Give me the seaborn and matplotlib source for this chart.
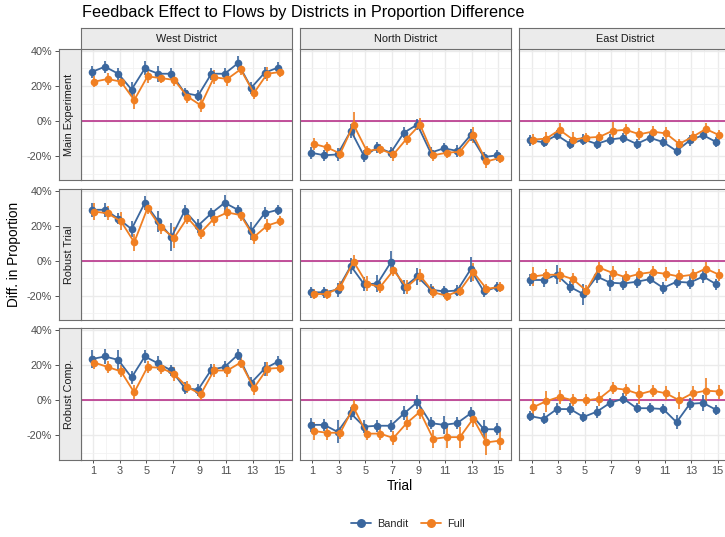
import pandas as pd
import matplotlib
matplotlib.use("Agg")
import matplotlib.pyplot as plt
from matplotlib.lines import Line2D
from matplotlib.ticker import FuncFormatter
import seaborn as sns

# 1. Values (percent)
trials = list(range(1, 16))
districts = ["West District", "North District", "East District"]
experiments = ["Main Experiment", "Robust Trial", "Robust Comp."]
groups = ["Bandit", "Full"]

west_main_bandit = [28, 31, 27, 18, 30, 27, 27, 16, 14.5, 27, 27, 33, 19, 27.5, 30.5]
west_main_full = [22.5, 24, 22.5, 12, 25.5, 24.5, 23.5, 14, 9, 25, 24, 29.5, 16, 27, 28]
north_main_bandit = [-18, -19.5, -19, -5.5, -20, -15, -18, -6.5, -2, -18, -15.5, -17, -8, -20.5, -19.5]
north_main_full = [-13, -15, -18.5, -2, -17, -16, -19, -10, -2, -19.5, -18, -17.5, -8, -23, -21]
east_main_bandit = [-11, -12, -8, -13, -10.5, -13, -10.5, -9.5, -13, -9.5, -12, -17, -11, -8, -12]
east_main_full = [-10.5, -10, -5, -10.5, -9.5, -9, -5.5, -5, -7.5, -6, -7, -13, -9, -4.5, -8]

west_trial_bandit = [29, 29, 24, 18, 33, 22.5, 13.5, 28.5, 20, 27, 33, 29, 17, 27, 29]
west_trial_full = [28, 27, 22.5, 10.5, 30, 19, 13, 24.5, 16, 24, 27.5, 26, 13.5, 20, 22.5]
north_trial_bandit = [-18, -18, -16.5, -3, -13.5, -13, -1, -15, -9, -16.5, -17.5, -17, -5, -17.5, -15]
north_trial_full = [-19, -19, -15, -0.5, -13, -15, -5.5, -15, -8.5, -18, -20, -17, -6.5, -16, -15]
east_trial_bandit = [-11, -11, -8, -15, -19, -9, -12.5, -13, -12, -10.5, -15.5, -12, -12.5, -9, -13.5]
east_trial_full = [-9, -8, -8, -10.5, -17, -4, -7, -9.5, -7.5, -6.5, -7.5, -9, -8, -4.5, -8]

west_comp_bandit = [23.5, 25, 23, 13, 25, 21, 17, 7, 6, 17.5, 19, 26, 10, 18, 22]
west_comp_full = [21.5, 19, 16.5, 4.5, 19, 18.5, 15, 7.5, 3.5, 17, 17, 21.5, 7, 18, 18.5]
north_comp_bandit = [-14, -14, -18, -7.5, -15, -14.5, -14.5, -7.5, -1, -13, -14, -13, -7.5, -16.5, -16.5]
north_comp_full = [-17.5, -18.5, -18.5, -4, -19, -19, -21.5, -13, -6.5, -22, -21, -21, -10.5, -24, -23]
east_comp_bandit = [-9, -10.5, -5, -5, -9.5, -6.5, -1.5, 1, -4.5, -4.5, -5, -12.5, -2, -1.5, -5.5]
east_comp_full = [-4, -0.5, 2, 0, 0, 1, 7, 6, 3.5, 5.5, 4, 0, 4, 5.5, 5]

# half-widths of the error bars (percent)
west_main_bandit_err = [3.5, 3.5, 3.5, 4.5, 4, 4.5, 3, 3, 3, 3.5, 3.5, 4, 3.5, 3.5, 3]
west_main_full_err = [3, 3.5, 3, 5, 4, 3, 3.5, 3.5, 4, 4, 4, 3.5, 3.5, 4, 3]
north_main_bandit_err = [3.5, 3, 3.5, 4, 3.5, 3, 3, 3, 3, 3, 3, 3.5, 3.5, 3, 3]
north_main_full_err = [3.5, 3, 3, 7, 3, 3, 3.5, 3.5, 3.5, 3, 3, 3, 4.5, 3.5, 3]
east_main_bandit_err = [3, 3, 3, 3, 3, 3, 3, 3, 3, 3, 3, 3, 3, 3, 3]
east_main_full_err = [3, 4, 4, 4.5, 3, 3, 5, 3.5, 3.5, 3, 3.5, 3, 3.5, 3.5, 3]

west_trial_bandit_err = [4, 4, 3, 4.5, 4, 6, 8, 3.5, 4, 3, 4.5, 3, 5, 3.5, 3]
west_trial_full_err = [5, 4, 5, 5, 3.5, 4, 6, 3.5, 3.5, 4, 4, 3.5, 4, 3.5, 3]
north_trial_bandit_err = [3, 3, 4, 4.5, 4, 5, 6.5, 4, 5, 3, 3, 3, 7, 3, 3]
north_trial_full_err = [3, 3, 3.5, 3.5, 4.5, 3.5, 3.5, 4, 3.5, 3.5, 3, 3, 5, 3, 3]
east_trial_bandit_err = [3.5, 4, 5.5, 3.5, 6, 3.5, 4.5, 3.5, 3.5, 3, 3.5, 3.5, 3.5, 3.5, 3]
east_trial_full_err = [5.5, 3.5, 4, 3.5, 3, 3.5, 4, 3.5, 3.5, 3.5, 4, 3.5, 3.5, 3.5, 3.5]

west_comp_bandit_err = [5, 4.5, 5.5, 3.5, 3.5, 4, 3, 3.5, 3.5, 3, 3.5, 3, 3, 4, 3]
west_comp_full_err = [3.5, 3.5, 3.5, 4, 3.5, 3.5, 4, 3.5, 3.5, 3.5, 3.5, 3, 4, 4, 3]
north_comp_bandit_err = [4, 3.5, 6.5, 3.5, 3.5, 3.5, 3.5, 4, 4, 3.5, 5, 3.5, 3.5, 5, 3.5]
north_comp_full_err = [5, 4, 3.5, 4, 3.5, 3.5, 4, 4, 4, 5, 6, 6, 5, 7, 5.5]
east_comp_bandit_err = [3, 3, 3.5, 3.5, 3, 3.5, 3, 3, 3, 3, 3, 4, 3.5, 4.5, 3]
east_comp_full_err = [4.5, 6, 4, 3.5, 3.5, 4, 3.5, 3.5, 5.5, 3.5, 4, 5, 4, 7, 4]

series = {
    ("Main Experiment", "West District"): (west_main_bandit, west_main_bandit_err, west_main_full, west_main_full_err),
    ("Main Experiment", "North District"): (north_main_bandit, north_main_bandit_err, north_main_full, north_main_full_err),
    ("Main Experiment", "East District"): (east_main_bandit, east_main_bandit_err, east_main_full, east_main_full_err),
    ("Robust Trial", "West District"): (west_trial_bandit, west_trial_bandit_err, west_trial_full, west_trial_full_err),
    ("Robust Trial", "North District"): (north_trial_bandit, north_trial_bandit_err, north_trial_full, north_trial_full_err),
    ("Robust Trial", "East District"): (east_trial_bandit, east_trial_bandit_err, east_trial_full, east_trial_full_err),
    ("Robust Comp.", "West District"): (west_comp_bandit, west_comp_bandit_err, west_comp_full, west_comp_full_err),
    ("Robust Comp.", "North District"): (north_comp_bandit, north_comp_bandit_err, north_comp_full, north_comp_full_err),
    ("Robust Comp.", "East District"): (east_comp_bandit, east_comp_bandit_err, east_comp_full, east_comp_full_err),
}

# 2. Long table
rows = []
for (exp, dist), (b, be, f, fe) in series.items():
    for g, vals, errs in (("Bandit", b, be), ("Full", f, fe)):
        for t, v, e in zip(trials, vals, errs):
            rows.append({"experiment": exp, "district": dist, "group": g,
                         "trial": t, "value": v / 100, "err": e / 100})
df = pd.DataFrame(rows)
dodge = {"Bandit": -0.1, "Full": 0.1}
df["x"] = df["trial"] + df["group"].map(dodge)

# 3. Style
sns.set_theme(style="white")
plt.rcParams["font.family"] = ["Liberation Sans", "DejaVu Sans"]
colors = {"Bandit": "#3B679E", "Full": "#F07F22"}
zero_color = "#B8338A"
border = "#6E6E6E"
strip_fill = "#EBEBEB"
grid_color = "#EBEBEB"
text_gray = "#4D4D4D"

W, H = 725, 537
fig = plt.figure(figsize=(W / 100, H / 100), dpi=100)


def px_axes(x0, y0, w, h):
    return fig.add_axes([x0 / W, 1 - (y0 + h) / H, w / W, h / H])


col_left = [80.5, 299.8, 519.1]
panel_w = 211.3
row_top = [49, 188.6, 328.2]
panel_h = 131.4
strip_w = 22
strip_h = 20.5

pct = FuncFormatter(lambda v, _: f"{v * 100:.0f}%")

for i, exp in enumerate(experiments):
    for j, dist in enumerate(districts):
        ax = px_axes(col_left[j], row_top[i], panel_w, panel_h)
        sub = df[(df["experiment"] == exp) & (df["district"] == dist)]

        ax.axhline(0, color=zero_color, lw=1.2, zorder=1)
        for g in groups:
            s = sub[sub["group"] == g]
            ax.vlines(s["x"], s["value"] - s["err"], s["value"] + s["err"],
                      color=colors[g], lw=1.2, zorder=2)
        sns.lineplot(data=sub, x="x", y="value", hue="group", hue_order=groups,
                     palette=colors, marker="o", markersize=5.5, markeredgewidth=0,
                     linewidth=1.3, legend=False, ax=ax, zorder=3)

        ax.set_xlim(0.06, 15.95)
        ax.set_ylim(-0.338, 0.411)
        ax.set_xticks(range(1, 16, 2))
        ax.set_xticks(range(2, 15, 2), minor=True)
        ax.set_yticks([-0.2, 0, 0.2, 0.4])
        ax.set_yticks([-0.3, -0.1, 0.1, 0.3], minor=True)
        ax.grid(which="major", color=grid_color, lw=1.0)
        ax.grid(which="minor", color="#F2F2F2", lw=0.6)
        ax.set_axisbelow(True)
        for sp in ax.spines.values():
            sp.set_color(border)
            sp.set_linewidth(0.8)
        ax.set_xlabel("")
        ax.set_ylabel("")

        if j == 0:
            ax.yaxis.set_major_formatter(pct)
            ax.tick_params(axis="y", which="major", left=True, direction="out",
                           length=18.5, width=0.6, color="#333333", pad=2,
                           labelsize=7.8, labelcolor=text_gray)
        else:
            ax.tick_params(axis="y", left=False, labelleft=False)
        ax.tick_params(axis="y", which="minor", left=False)
        if i == 2:
            ax.tick_params(axis="x", which="major", bottom=True, direction="out",
                           length=2.5, width=0.6, color="#333333", pad=2,
                           labelsize=7.8, labelcolor=text_gray)
        else:
            ax.tick_params(axis="x", bottom=False, labelbottom=False)
        ax.tick_params(axis="x", which="minor", bottom=False)

# 4. Facet strips
for j, dist in enumerate(districts):
    sa = px_axes(col_left[j], row_top[0] - strip_h, panel_w, strip_h)
    sa.set_facecolor(strip_fill)
    sa.set_xticks([])
    sa.set_yticks([])
    for sp in sa.spines.values():
        sp.set_color(border)
        sp.set_linewidth(0.8)
    sa.text(0.5, 0.5, dist, ha="center", va="center", fontsize=7.8,
            color="#1A1A1A", transform=sa.transAxes)

for i, exp in enumerate(experiments):
    sa = px_axes(col_left[0] - strip_w, row_top[i], strip_w, panel_h)
    sa.set_facecolor(strip_fill)
    sa.set_xticks([])
    sa.set_yticks([])
    for sp in sa.spines.values():
        sp.set_color(border)
        sp.set_linewidth(0.8)
    sa.text(0.5, 0.5, exp, ha="center", va="center", rotation=90, fontsize=7.8,
            color="#1A1A1A", transform=sa.transAxes)

# 5. Titles and legend
fig.text(82 / W, 1 - 12 / H, "Feedback Effect to Flows by Districts in Proportion Difference",
         ha="left", va="center", fontsize=11.7, color="black")
fig.text(14 / W, 1 - 254 / H, "Diff. in Proportion", rotation=90,
         ha="center", va="center", fontsize=9.8, color="black")
fig.text(400 / W, 1 - 486 / H, "Trial", ha="center", va="center",
         fontsize=9.8, color="black")

handles = [Line2D([0], [0], color=colors[g], marker="o", markersize=6.5,
                  markeredgewidth=0, lw=1.3) for g in groups]
fig.legend(handles, groups, loc="center", bbox_to_anchor=(408 / W, 1 - 524 / H),
           ncol=2, frameon=False, fontsize=7.8, handlelength=1.8,
           columnspacing=1.2, handletextpad=0.6)

fig.savefig("out.png", dpi=100)
